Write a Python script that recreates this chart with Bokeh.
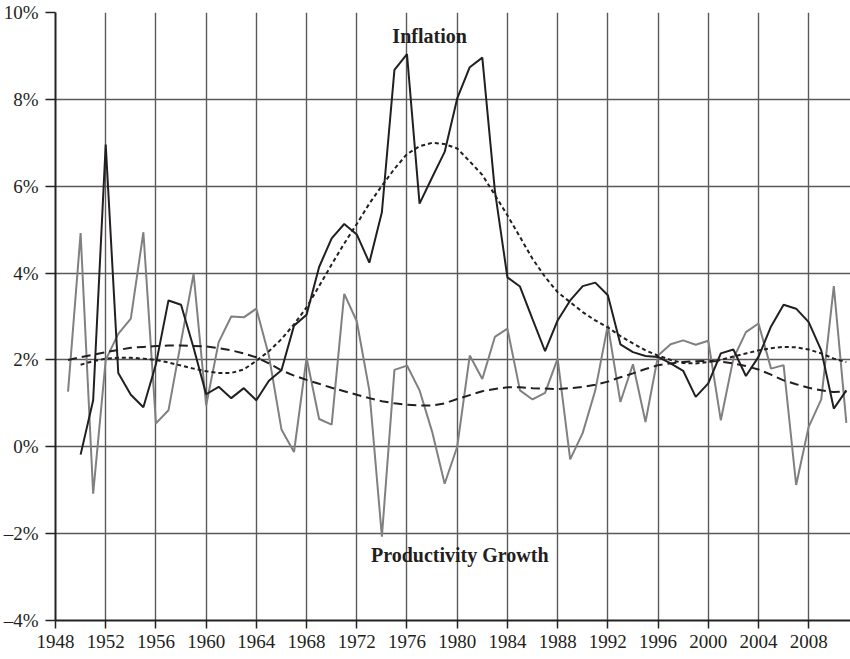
from bokeh.plotting import figure
from bokeh.models import FixedTicker, Label, Range1d
from bokeh.embed import file_html
from bokeh.resources import INLINE

# ---------------- data ----------------
infl_years = list(range(1950, 2012))
inflation = [-0.18, 1.07, 6.96, 1.70, 1.20, 0.91, 1.90, 3.37, 3.27, 2.28,
             1.21, 1.38, 1.12, 1.35, 1.07, 1.52, 1.76, 2.79, 3.04, 4.14,
             4.80, 5.13, 4.89, 4.24, 5.40, 8.68, 9.04, 5.60, 6.20, 6.79,
             8.02, 8.74, 8.96, 5.90, 3.90, 3.69, 2.94, 2.20, 2.91, 3.37,
             3.70, 3.78, 3.49, 2.36, 2.18, 2.09, 2.07, 1.92, 1.75, 1.15,
             1.46, 2.15, 2.24, 1.63, 2.07, 2.77, 3.27, 3.18, 2.87, 2.22,
             0.88, 1.30]
inflation_trend = [1.89, 1.97, 2.03, 2.05, 2.05, 2.03, 2.00, 1.94, 1.87, 1.80,
                   1.74, 1.70, 1.70, 1.78, 1.98, 2.20, 2.48, 2.82, 3.21, 3.70,
                   4.20, 4.68, 5.13, 5.60, 6.01, 6.40, 6.74, 6.92, 7.00, 6.97,
                   6.87, 6.57, 6.26, 5.80, 5.33, 4.83, 4.33, 3.91, 3.56, 3.33,
                   3.10, 2.91, 2.75, 2.55, 2.38, 2.22, 2.10, 2.00, 1.93, 1.92,
                   1.95, 2.00, 2.08, 2.15, 2.22, 2.27, 2.30, 2.29, 2.24, 2.15,
                   2.03, 1.95]

prod_years = list(range(1949, 2012))
productivity = [1.27, 4.92, -1.08, 2.00, 2.60, 2.95, 4.94, 0.54, 0.84, 2.42,
                3.98, 0.95, 2.41, 3.00, 2.98, 3.18, 2.10, 0.40, -0.12, 2.05,
                0.64, 0.51, 3.52, 2.89, 1.30, -2.07, 1.77, 1.87, 1.30, 0.35,
                -0.85, 0.00, 2.10, 1.56, 2.53, 2.72, 1.30, 1.09, 1.24, 2.03,
                -0.29, 0.32, 1.30, 2.80, 1.03, 1.90, 0.57, 2.10, 2.36, 2.45,
                2.35, 2.44, 0.61, 2.03, 2.64, 2.84, 1.80, 1.88, -0.88, 0.46,
                1.09, 3.70, 0.55]
productivity_trend = [2.00, 2.06, 2.12, 2.18, 2.23, 2.28, 2.30, 2.32, 2.33, 2.33,
                      2.32, 2.31, 2.27, 2.22, 2.15, 2.06, 1.92, 1.76, 1.64, 1.54,
                      1.45, 1.36, 1.28, 1.20, 1.12, 1.05, 1.00, 0.97, 0.95, 0.95,
                      1.00, 1.10, 1.19, 1.28, 1.33, 1.37, 1.37, 1.35, 1.34, 1.33,
                      1.35, 1.38, 1.43, 1.50, 1.60, 1.69, 1.79, 1.88, 1.92, 1.95,
                      1.97, 1.98, 1.96, 1.92, 1.86, 1.78, 1.66, 1.53, 1.44, 1.36,
                      1.30, 1.26, 1.27]

x_ticks = list(range(1948, 2012, 4))
y_ticks = [-4, -2, 0, 2, 4, 6, 8, 10]
y_tick_labels = ["\u20134%", "\u20132%", "0%", "2%", "4%", "6%", "8%", "10%"]

# ---------------- figure ----------------
FONT = "Liberation Serif"
p = figure(width=850, height=656, output_backend="svg", toolbar_location=None,
           x_range=Range1d(1948, 2011.33), y_range=Range1d(-4, 10),
           min_border_left=54, min_border_right=0, min_border_top=12,
           min_border_bottom=36)
p.outline_line_color = None
p.background_fill_color = "white"
p.border_fill_color = "white"

grid_color = "#5a5a5a"
p.xgrid.ticker = FixedTicker(ticks=x_ticks)
p.ygrid.ticker = FixedTicker(ticks=y_ticks)
for g in (p.xgrid, p.ygrid):
    g.grid_line_color = grid_color
    g.grid_line_width = 1.4

p.xaxis.ticker = FixedTicker(ticks=x_ticks)
p.yaxis.ticker = FixedTicker(ticks=y_ticks)
p.yaxis.major_label_overrides = {t: l for t, l in zip(y_ticks, y_tick_labels)}
for ax in (p.xaxis, p.yaxis):
    ax.axis_line_color = "#222222"
    ax.axis_line_width = 2
    ax.major_tick_line_color = "#222222"
    ax.major_tick_line_width = 1.5
    ax.major_tick_in = 0
    ax.minor_tick_line_color = None
    ax.major_label_text_font = FONT
    ax.major_label_text_font_size = "19px"
    ax.major_label_text_color = "#231f20"
p.xaxis.major_tick_out = 8
p.xaxis.major_label_standoff = 6
p.yaxis.major_tick_out = 10
p.yaxis.major_label_standoff = 7

# ---------------- series ----------------
p.line(prod_years, productivity, line_color="#808080", line_width=2)
p.line(infl_years, inflation, line_color="#231f20", line_width=2)
p.line(infl_years, inflation_trend, line_color="#231f20", line_width=2,
       line_dash="4 3")
p.line(prod_years, productivity_trend, line_color="#231f20", line_width=2,
       line_dash="9 5")

p.add_layout(Label(x=1977.8, y=9.45, text="Inflation", text_font=FONT,
                   text_font_style="bold", text_font_size="20px",
                   text_align="center", text_baseline="middle",
                   text_color="#231f20"))
p.add_layout(Label(x=1980.2, y=-2.5, text="Productivity Growth", text_font=FONT,
                   text_font_style="bold", text_font_size="20px",
                   text_align="center", text_baseline="middle",
                   text_color="#231f20"))

open("out.html", "w").write(file_html(p, INLINE))
